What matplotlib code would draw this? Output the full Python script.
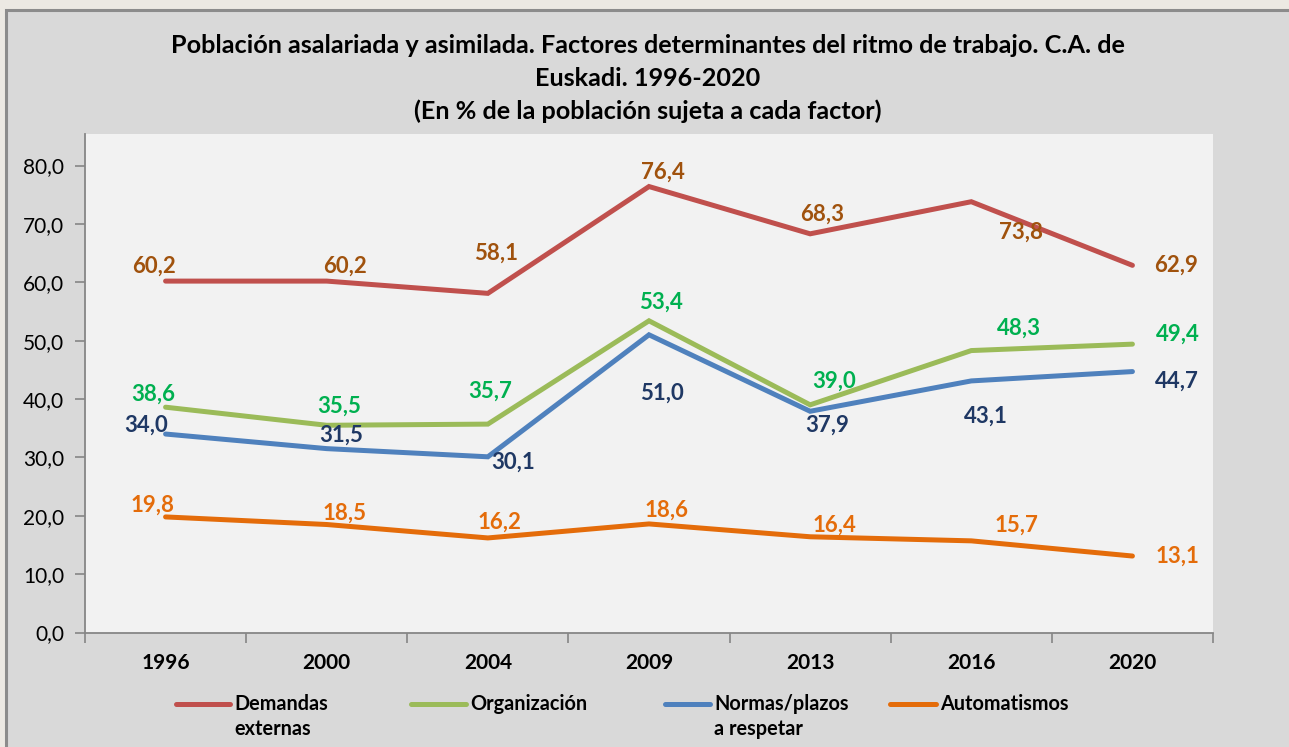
import numpy as np
import matplotlib
matplotlib.use("Agg")
import matplotlib.pyplot as plt
from matplotlib.patches import Rectangle
from matplotlib.lines import Line2D

plt.rcParams['font.family'] = ['Lato', 'DejaVu Sans']

years = ['1996', '2000', '2004', '2009', '2013', '2016', '2020']
demandas = [60.2, 60.2, 58.1, 76.4, 68.3, 73.8, 62.9]
organizacion = [38.6, 35.5, 35.7, 53.4, 39.0, 48.3, 49.4]
normas = [34.0, 31.5, 30.1, 51.0, 37.9, 43.1, 44.7]
automatismos = [19.8, 18.5, 16.2, 18.6, 16.4, 15.7, 13.1]

labels = ['Demandas\nexternas', 'Organización', 'Normas/plazos\na respetar', 'Automatismos']
line_colors = ['#c0504d', '#9bbb59', '#4f81bd', '#e46c0a']
text_colors = ['#a0520d', '#00b050', '#1f3864', '#e46c0a']

# label offsets in pixels (dx, dy) from each point
offsets = [
    [(-12, 15), (18, 15), (8, 40), (14, 14), (12, 20), (50, -30), (44, 0)],
    [(-12, 13), (12, 19), (2, 33), (12, 19), (24, 24), (48, 22), (45, 10)],
    [(-19, 9), (14, 13), (25, -5), (13, -58), (17, -14), (15, -35), (44, -10)],
    [(-13, 12), (18, 11), (12, 16), (18, 14), (24, 12), (45, 16), (45, 0)],
]

W, H = 1289, 747
fig = plt.figure(figsize=(W / 100, H / 100), dpi=100)
fig.patch.set_facecolor('#ece9e3')

# chart frame
fig.add_artist(Rectangle((5.5 / W, -0.05), 1.1, 1 - 9.5 / H + 0.05,
                         transform=fig.transFigure, facecolor='#d9d9d9',
                         edgecolor='#8c8c8c', linewidth=2.2, zorder=0))
fig.text(650 / W, 1 + 6 / H, 'Gráfico 1', ha='center', va='center',
         fontsize=13, color='#555555')

ax = fig.add_axes([85 / W, 1 - 632.5 / H, 1128 / W, 498.5 / H])
ax.set_facecolor('#f2f2f2')

x = np.arange(len(years))
series = [demandas, organizacion, normas, automatismos]
for vals, lc, tc, offs in zip(series, line_colors, text_colors, offsets):
    ax.plot(x, vals, color=lc, linewidth=3.6, solid_capstyle='round',
            solid_joinstyle='miter', zorder=3)
    for xi, v, (dx, dy) in zip(x, vals, offs):
        ax.annotate(f'{v:.1f}'.replace('.', ','), (xi, v), xytext=(dx, dy),
                    textcoords='offset pixels', ha='center', va='center',
                    fontsize=16, fontweight='bold', color=tc, zorder=4)

ax.set_xlim(-0.5, len(years) - 0.5)
ax.set_ylim(0, 85.4)
ax.set_yticks(np.arange(0, 81, 10))
ax.set_yticklabels([f'{t:.1f}'.replace('.', ',') for t in np.arange(0, 81, 10)],
                   fontsize=15)
ax.set_xticks(x)
ax.set_xticklabels(years, fontsize=15, fontweight='bold')
ax.set_xticks(np.arange(-0.5, len(years)), minor=True)
ax.tick_params(axis='x', which='major', length=0, pad=15)
ax.tick_params(axis='x', which='minor', length=7, width=1.2, color='#868686')
ax.tick_params(axis='y', length=7, width=1.2, color='#868686', pad=8)
for s in ['top', 'right']:
    ax.spines[s].set_visible(False)
for s in ['left', 'bottom']:
    ax.spines[s].set_color('#868686')
    ax.spines[s].set_linewidth(1.3)

fig.text(648 / W, 1 - 34 / H,
         'Población asalariada y asimilada. Factores determinantes del ritmo de trabajo. C.A. de\n'
         'Euskadi. 1996-2020\n(En % de la población sujeta a cada factor)',
         ha='center', va='top', multialignment='center', fontsize=18.2,
         fontweight='bold', linespacing=1.5)

# legend
handle_x = [(176, 230), (411, 466), (665, 710), (890, 936)]
for (x0, x1), lab, lc in zip(handle_x, labels, line_colors):
    fig.add_artist(Line2D([x0 / W, x1 / W], [1 - 704 / H] * 2,
                          transform=fig.transFigure, color=lc, linewidth=3.6,
                          solid_capstyle='round'))
    fig.text((x1 + 4) / W, 1 - 694 / H, lab, ha='left', va='top',
             fontsize=14.3, fontweight='bold', linespacing=1.32)

fig.savefig('out.png', dpi=100, facecolor=fig.get_facecolor())
